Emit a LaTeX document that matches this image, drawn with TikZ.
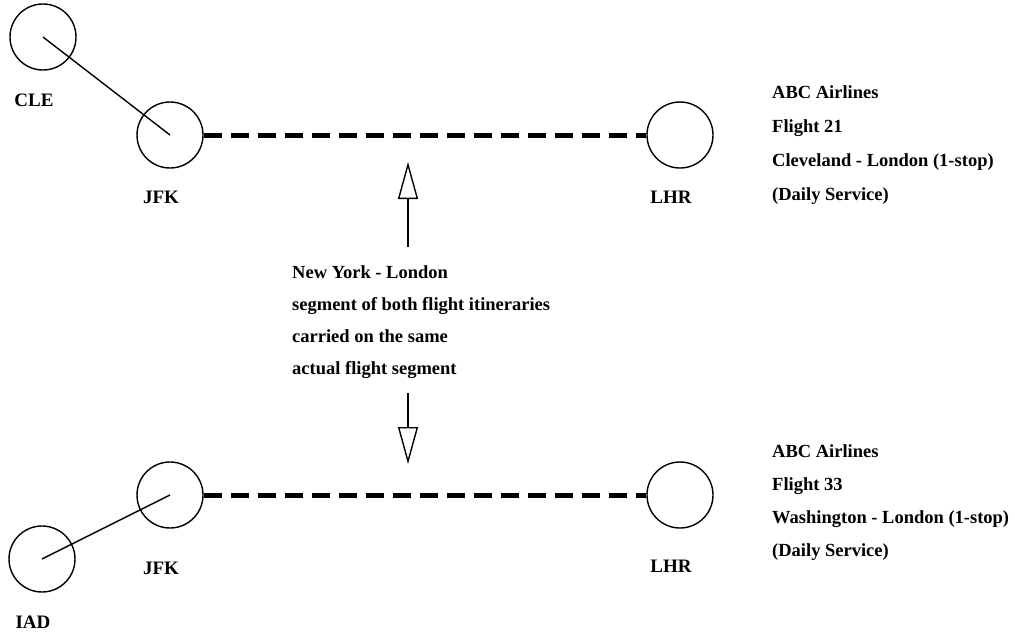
\documentclass[tikz,border=0pt]{standalone}
\usepackage{fontspec}
\setmainfont{Liberation Serif}
\usetikzlibrary{positioning,arrows.meta}

\begin{document}
\begin{tikzpicture}
    [x=1pt,y=-1pt,
     airport/.style={circle,draw,line width=1.4pt,minimum size=66pt,inner sep=0pt},
     code/.style={inner sep=0pt,xshift=-9pt,font=\bfseries\fontsize{19}{22}\selectfont},
     info/.style={align=left,anchor=west,inner sep=0pt,font=\bfseries\fontsize{18.5}{34}\selectfont},
     leg/.style={line width=1.4pt},
     segment/.style={line width=5pt,dash pattern=on 18pt off 9pt},
     pointer/.style={line width=1.4pt,-{Triangle[open,length=37pt,width=20pt]}}]

    \useasboundingbox (0,0) rectangle (1015,633);

    % Flight 21
    \node[airport] (cle) at (43,37) {};
    \node[code] (clelabel) [below=23.5pt of cle] {CLE};
    \node[airport] (jfka) at (170,135) {};
    \node[code] (jfkalabel) [below=22.5pt of jfka] {JFK};
    \node[airport] (lhra) at (680,135) {};
    \node[code] (lhralabel) [below=22.5pt of lhra] {LHR};
    \draw[leg] (cle.center) -- (jfka.center);
    \draw[segment] (jfka) -- (lhra);
    \node[info] (flighta) at (772,145) {ABC Airlines\\Flight 21\\Cleveland - London (1-stop)\\(Daily Service)};

    % Flight 33
    \node[airport] (jfkb) at (170,495) {};
    \node[code] (jfkblabel) [below=33.5pt of jfkb] {JFK};
    \node[airport] (lhrb) at (680,495) {};
    \node[code] (lhrblabel) [below=31pt of lhrb] {LHR};
    \node[airport] (iad) at (42,559) {};
    \node[code] (iadlabel) [below=23.5pt of iad] {IAD};
    \draw[leg] (iad.center) -- (jfkb.center);
    \draw[segment] (jfkb) -- (lhrb);
    \node[info,font=\bfseries\fontsize{18.5}{33}\selectfont] (flightb) at (772,503)
      {ABC Airlines\\Flight 33\\Washington - London (1-stop)\\(Daily Service)};

    % shared segment note
    \node[info,font=\bfseries\fontsize{18.5}{32}\selectfont] (note) at (292,322)
      {New York - London\\segment of both flight itineraries\\carried on the same\\actual flight segment};
    \coordinate (uptail) at (408,247);
    \coordinate (uptip) at (408,162);
    \coordinate (downtail) at (408,393);
    \coordinate (downtip) at (408,464);
    \draw[pointer] (uptail) -- (uptip);
    \draw[pointer] (downtail) -- (downtip);
\end{tikzpicture}
\end{document}
